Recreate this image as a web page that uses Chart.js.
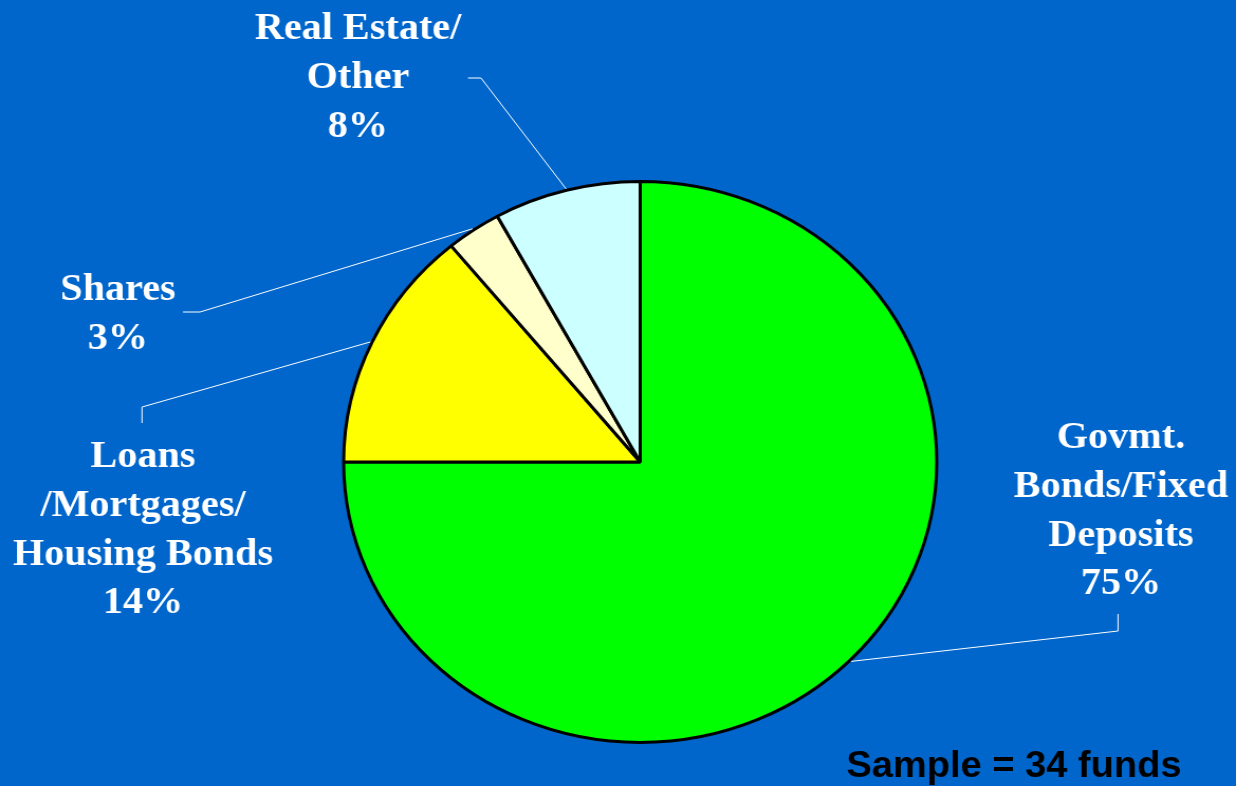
<!DOCTYPE html>
<html>
<head>
<meta charset="utf-8">
<script src="https://cdn.jsdelivr.net/npm/chart.js@4"></script>
<style>
html, body { margin: 0; padding: 0; background: #0066cc; overflow: hidden; }
</style>
</head>
<body>
<!-- drawn narrower and widened by CSS, so the pie comes out oval like the slide -->
<canvas id="canvas" width="1169" height="786" style="width:1236px;height:786px;display:block"></canvas>
<script>
"use strict";

const stretchX = 1236 / 1169;

const categories = ['Govmt. Bonds/Fixed Deposits', 'Loans /Mortgages/ Housing Bonds', 'Shares', 'Real Estate/ Other'];
const percentages = [75, 14, 3, 8];
const sliceColors = ['#00ff00', '#ffff00', '#ffffcc', '#ccffff'];
const labelLines = [
    ['Govmt.', 'Bonds/Fixed', 'Deposits'],
    ['Loans', '/Mortgages/', 'Housing Bonds'],
    ['Shares'],
    ['Real Estate/', 'Other']
];
const sampleNote = 'Sample = 34 funds';

// where each label sits on screen: text centre, first baseline, leader elbow and end
const labelLayout = [
    { x: 1121, y: 448, elbow: [1118, 631], end: [1118, 614] },
    { x: 143, y: 467, elbow: [142, 407], end: [142, 423] },
    { x: 118, y: 300, elbow: [200, 312], end: [183, 312] },
    { x: 358, y: 39, elbow: [481, 78], end: [468, 78] }
];

const pieLabels = {
    id: 'pieLabels',
    afterDraw(chart) {
        const ctx = chart.ctx;
        const arcs = chart.getDatasetMeta(0).data;
        ctx.save();
        arcs.forEach((arc, i) => {
            const p = arc.getProps(['x', 'y', 'startAngle', 'endAngle', 'outerRadius'], true);
            const mid = (p.startAngle + p.endAngle) / 2;
            const r = p.outerRadius + 1.5;
            const lay = labelLayout[i];

            // leader line from the middle of the slice edge
            ctx.strokeStyle = '#ffffff';
            ctx.lineWidth = 1;
            ctx.beginPath();
            ctx.moveTo(p.x + Math.cos(mid) * r, p.y + Math.sin(mid) * r);
            ctx.lineTo(lay.elbow[0] / stretchX, lay.elbow[1]);
            ctx.lineTo(lay.end[0] / stretchX, lay.end[1]);
            ctx.stroke();

            ctx.fillStyle = '#ffffff';
            ctx.font = 'bold 38px "Liberation Serif", "Times New Roman", serif';
            ctx.textAlign = 'center';
            ctx.textBaseline = 'alphabetic';
            const lines = labelLines[i].concat([percentages[i] + '%']);
            lines.forEach((line, k) => {
                ctx.fillText(line, lay.x / stretchX, lay.y + k * 48.8);
            });
        });

        ctx.fillStyle = '#000000';
        ctx.font = 'bold 36px "Liberation Sans", Arial, sans-serif';
        ctx.textAlign = 'center';
        ctx.fillText(sampleNote, 1014 / stretchX, 777);
        ctx.restore();
    }
};

new Chart(document.getElementById('canvas'), {
    type: 'pie',
    data: {
        labels: categories,
        datasets: [{
            data: percentages,
            backgroundColor: sliceColors,
            borderColor: '#000000',
            borderWidth: 3,
            radius: 280.5
        }]
    },
    options: {
        responsive: false,
        animation: false,
        layout: { padding: { left: 42, top: 138, right: 0, bottom: 0 } },
        plugins: {
            legend: { display: false },
            tooltip: { enabled: false }
        }
    },
    plugins: [pieLabels]
});
</script>
</body>
</html>
